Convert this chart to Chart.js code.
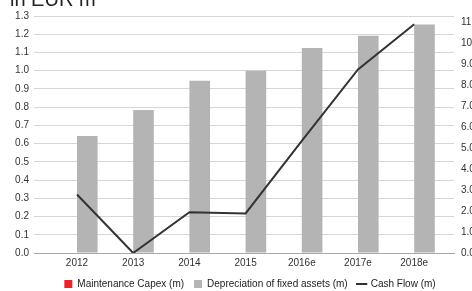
<!DOCTYPE html>
<html>
<head>
<meta charset="utf-8">
<script src="https://cdn.jsdelivr.net/npm/chart.js@4/dist/chart.umd.min.js"></script>
<style>
html, body { margin: 0; padding: 0; overflow: hidden; background: #fff; }
#wrap { position: relative; width: 500px; height: 299px; }
</style>
</head>
<body>
<div id="wrap"><canvas id="c"></canvas></div>
<script>
const categories = ['2012', '2013', '2014', '2015', '2016e', '2017e', '2018e'];
const maintenanceCapex = [0, 0, 0, 0, 0, 0, 0];
const depreciation = [0.642, 0.784, 0.945, 1.0, 1.125, 1.192, 1.253];
const cashFlow = [2.79, 0.0, 1.95, 1.89, 5.35, 8.76, 10.92];
const leftTicks = [0, 1.3, 0.1];
const rightTicks = [0, 11.31, 1];
const titleText = 'in EUR m';

const FONT = "'Liberation Sans', Arial, sans-serif";
const LEGEND_SHIFT = 4;

const titlePlugin = {
  id: 'topTitle',
  afterInit(chart) {
    const lg = chart.legend;
    if (!lg) return;
    const origFit = lg.fit.bind(lg);
    lg.fit = function () { origFit(); this.height -= LEGEND_SHIFT; };
    const origDraw = lg.draw.bind(lg);
    lg.draw = function (a) {
      this.ctx.save();
      this.ctx.translate(0, -LEGEND_SHIFT);
      origDraw(a);
      this.ctx.restore();
    };
  },
  afterDraw(chart) {
    const ctx = chart.ctx;
    ctx.save();
    ctx.font = '20px ' + FONT;
    ctx.fillStyle = '#222';
    ctx.textAlign = 'left';
    ctx.textBaseline = 'alphabetic';
    ctx.fillText(titleText, 10, 6);
    ctx.restore();
  }
};

new Chart(document.getElementById('c'), {
  data: {
    labels: categories,
    datasets: [
      {
        type: 'bar', label: 'Maintenance Capex (m)', data: maintenanceCapex,
        backgroundColor: '#e8232a', borderWidth: 0, yAxisID: 'y', order: 2,
        pointStyle: 'rect'
      },
      {
        type: 'bar', label: 'Depreciation of fixed assets (m)', data: depreciation,
        backgroundColor: '#b4b4b4', borderWidth: 0, yAxisID: 'y', order: 2,
        pointStyle: 'rect'
      },
      {
        type: 'line', label: 'Cash Flow (m)', data: cashFlow,
        borderColor: '#333333', backgroundColor: '#333333', borderWidth: 2,
        pointRadius: 0, tension: 0, yAxisID: 'y2', order: 1,
        pointStyle: 'line'
      }
    ]
  },
  options: {
    responsive: true,
    maintainAspectRatio: false,
    animation: false,
    layout: { padding: { top: 16, left: 0, right: 0, bottom: 0 } },
    datasets: { bar: { categoryPercentage: 0.733, barPercentage: 1 } },
    plugins: {
      legend: {
        position: 'bottom',
        labels: {
          font: { family: FONT, size: 10 }, color: '#222',
          usePointStyle: true, boxWidth: 8, boxHeight: 8, padding: 10,
          sort: (a, b) => a.datasetIndex - b.datasetIndex
        }
      },
      tooltip: { enabled: false }
    },
    scales: {
      x: {
        type: 'category',
        offset: false,
        grid: { display: false, drawTicks: false },
        border: { display: true, color: '#a8a8a8', width: 1 },
        ticks: { font: { family: FONT, size: 10 }, color: '#333', padding: 4, maxRotation: 0, autoSkip: false },
        afterBuildTicks(scale) {
          scale._startValue = -0.765;
          scale._valueRange = 7.473;
        }
      },
      y: {
        type: 'linear', position: 'left',
        min: leftTicks[0], max: leftTicks[1],
        grid: { color: '#d6d6d6', drawTicks: false, lineWidth: 1 },
        border: { display: false },
        ticks: {
          stepSize: leftTicks[2], font: { family: FONT, size: 10 }, color: '#333', padding: 5,
          callback: (v) => Number(v).toFixed(1)
        },
        afterFit(s) { s.width = 34; }
      },
      y2: {
        type: 'linear', position: 'right',
        min: rightTicks[0], max: rightTicks[1],
        grid: { display: false, drawTicks: false },
        border: { display: false },
        ticks: {
          stepSize: rightTicks[2], includeBounds: false,
          font: { family: FONT, size: 10 }, color: '#333', padding: 7,
          callback: (v) => Number(v).toFixed(1)
        },
        afterFit(s) { s.width = 46; }
      }
    }
  },
  plugins: [titlePlugin]
});
</script>
</body>
</html>
